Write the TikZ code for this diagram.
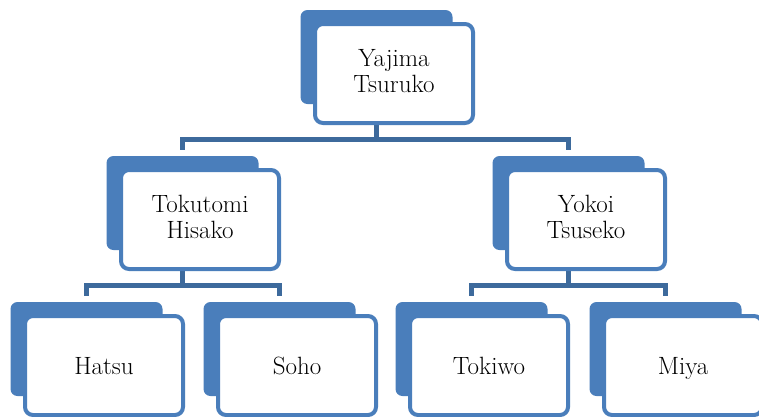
\documentclass[tikz,border=0pt]{standalone}
\usetikzlibrary{backgrounds}
\definecolor{boxblue}{HTML}{4A7EBB}
\definecolor{linkblue}{HTML}{3D6A9C}
\tikzset{person/.style = {draw=boxblue, line width=4pt, fill=white,
                          rounded corners=8pt, minimum width=158pt, minimum height=99pt,
                          inner sep=0, outer sep=0, align=center,
                          font=\fontsize{25}{26}\selectfont,
                          execute at begin node={\rule[-5pt]{0pt}{28pt}}}}
\tikzset{backbox/.style = {fill=boxblue, rounded corners=7pt}}
\tikzset{link/.style = {draw=linkblue, line width=4.5pt}}

\begin{document}
\begin{tikzpicture}[x=1pt, y=-1pt]
    \useasboundingbox (0, 0) rectangle (759, 416);

    \node [person] (top) at (394, 73.5) {Yajima\\Tsuruko};

    \node [person] (tokutomi) at (200, 219.5) {Tokutomi\\Hisako};
    \node [person] (yokoi) at (586, 219.5) {Yokoi\\Tsuseko};

    \node [person] (hatsu) at (104, 365.5) {Hatsu};
    \node [person] (soho) at (297, 365.5) {Soho};
    \node [person] (tokiwo) at (489, 365.5) {Tokiwo};
    \node [person] (miya) at (683, 365.5) {Miya};

    \begin{scope}[on background layer]
      \foreach \p/\c in {top/tokutomi, top/yokoi, tokutomi/hatsu, tokutomi/soho, yokoi/tokiwo, yokoi/miya} {
        \draw [link] ([shift={(-17.5, 0)}]\p.south) -- ++(0, 16.5) -| ([shift={(-17.5, -20)}]\c.north);
      }
      \foreach \n in {top, tokutomi, yokoi, hatsu, soho, tokiwo, miya} {
        \fill [backbox] ([shift={(-14.5, -14)}]\n.north west) rectangle ([shift={(-20.5, -19)}]\n.south east);
      }
    \end{scope}
  \end{tikzpicture}
\end{document}
